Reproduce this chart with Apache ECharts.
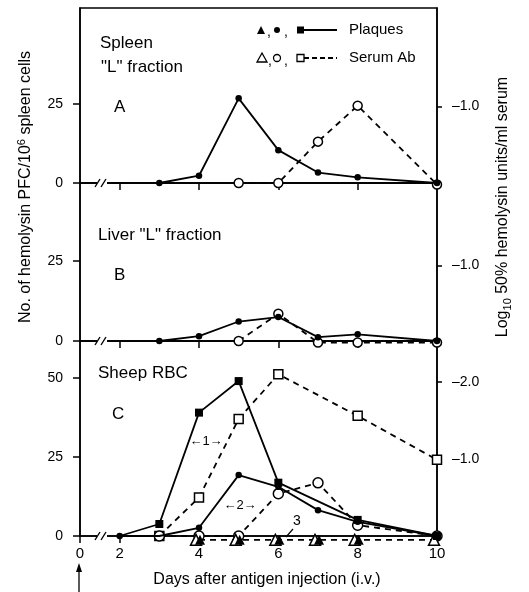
<!DOCTYPE html>
<html><head><meta charset="utf-8">
<script src="https://cdn.jsdelivr.net/npm/echarts@6/dist/echarts.min.js"></script>
<style>html,body{margin:0;padding:0;background:#fff}#c{width:529px;height:592px}</style>
</head><body><div id="c"></div>
<script>
// ---- axis ticks ----
const xTickDays = [1, 2, 4, 6, 8, 10];
const xTickLabels = ['0', '2', '4', '6', '8', '10'];
const leftTicksAB = [0, 25];
const leftTicksC = [0, 25, 50];
const rightTicksAB = [1];
const rightTicksC = [1, 2];

// ---- Panel A: Spleen "L" fraction ----
const aPlaqueDays = [3, 4, 5, 6, 7, 8, 10];
const aPlaqueVals = [0, 2.3, 26.8, 10.4, 3.3, 1.8, 0];
const aSerumDays = [5, 6, 7, 8, 10];
const aSerumVals = [0, 0, 0.54, 1.01, -0.02];

// ---- Panel B: Liver "L" fraction ----
const bPlaqueDays = [3, 4, 5, 6, 7, 8, 10];
const bPlaqueVals = [0, 1.5, 6.1, 7.5, 1.2, 2.1, 0];
const bSerumDays = [5, 6, 7, 8, 10];
const bSerumVals = [0, 0.36, -0.02, -0.02, -0.02];

// ---- Panel C: Sheep RBC (curves 1, 2, 3) ----
const c1PlaqueDays = [2, 3, 4, 5, 6, 8, 10];
const c1PlaqueVals = [0, 3.8, 39.1, 49.1, 16.9, 5.1, 0];
const c2PlaqueDays = [2, 3, 4, 5, 6, 7, 8, 10];
const c2PlaqueVals = [0, 0, 2.6, 19.3, 15.6, 8.2, 4.5, 0];
const c3PlaqueDays = [4, 5, 6, 7, 8];
const c3PlaqueVals = [-1.2, -1.2, -1.2, -1.2, -1.2];
const c1SerumDays = [3, 4, 5, 6, 8, 10];
const c1SerumVals = [0, 0.50, 1.52, 2.10, 1.56, 0.99];
const c2SerumDays = [3, 4, 5, 6, 7, 8, 10];
const c2SerumVals = [0, 0, 0, 0.55, 0.69, 0.14, 0];
const c3SerumDays = [4, 5, 6, 7, 8, 10];
const c3SerumVals = [-0.05, -0.05, -0.05, -0.05, -0.05, -0.05];

const FONT = 'Liberation Sans';
const BLK = '#000';

function pts(days, vals, hideDays) {
  return days.map((d, i) => {
    const o = { value: [d, vals[i]] };
    if (hideDays && hideDays.indexOf(d) >= 0) o.symbol = 'none';
    return o;
  });
}

const chart = echarts.init(document.getElementById('c'), null, { renderer: 'canvas' });

const grids = [
  { left: 80, right: 92, top: 8, height: 175 },
  { left: 80, right: 92, top: 183, height: 158 },
  { left: 80, right: 92, top: 341, height: 195 }
];
const leftMax = [55.4, 49.5, 61.8];
const rightMax = [2.285, 2.087, 2.532];

const xAxes = [0, 1, 2].map(i => ({
  type: 'value', gridIndex: i, min: 1, max: 10,
  axisLine: { show: true, onZero: false, lineStyle: { color: BLK, width: 1.5 } },
  axisTick: { show: true, inside: false, length: 7, customValues: i === 2 ? [1, 2, 4, 6, 8] : [2, 4, 6, 8], lineStyle: { color: BLK, width: 1.5 } },
  axisLabel: { show: i === 2, customValues: xTickDays, margin: 10, color: BLK, fontSize: 15, fontFamily: FONT,
    formatter: v => xTickLabels[xTickDays.indexOf(v)] },
  splitLine: { show: false }
}));

const yAxes = [];
[0, 1, 2].forEach(i => {
  const lt = i === 2 ? leftTicksC : leftTicksAB;
  const rt = i === 2 ? rightTicksC : rightTicksAB;
  yAxes.push({
    type: 'value', gridIndex: i, position: 'left', min: 0, max: leftMax[i],
    axisLine: { show: true, onZero: false, lineStyle: { color: BLK, width: 1.5 } },
    axisTick: { show: true, length: 7, customValues: lt, lineStyle: { color: BLK, width: 1.5 } },
    axisLabel: { customValues: lt, margin: 17, color: BLK, fontSize: 14, fontFamily: FONT },
    splitLine: { show: false }
  });
  yAxes.push({
    type: 'value', gridIndex: i, position: 'right', min: 0, max: rightMax[i],
    axisLine: { show: true, onZero: false, lineStyle: { color: BLK, width: 1.5 } },
    axisTick: { show: true, length: 5, customValues: rt, lineStyle: { color: BLK, width: 1.5 } },
    axisLabel: { customValues: rt, margin: 15, color: BLK, fontSize: 14, fontFamily: FONT,
      formatter: v => '–' + v.toFixed(1) },
    splitLine: { show: false }
  });
});

const solid = { color: BLK, width: 1.8, type: 'solid' };
const dashed = { color: BLK, width: 1.8, type: [6, 5] };
const filled = { color: BLK };
const open = { color: '#fff', borderColor: BLK, borderWidth: 1.5 };

function ser(xi, yi, data, line, symbol, size, item, extra) {
  return Object.assign({
    type: 'line', xAxisIndex: xi, yAxisIndex: yi, data: data,
    lineStyle: line, symbol: symbol, symbolSize: size, itemStyle: item,
    showAllSymbol: true, clip: false, animation: false, emphasis: { disabled: true }, z: 3
  }, extra || {});
}

const series = [
  // A
  ser(0, 1, pts(aSerumDays, aSerumVals), dashed, 'circle', 9, open),
  ser(0, 0, pts(aPlaqueDays, aPlaqueVals), solid, 'circle', 6.5, filled, { z: 4 }),
  // B
  ser(1, 3, pts(bSerumDays, bSerumVals), dashed, 'circle', 9, open),
  ser(1, 2, pts(bPlaqueDays, bPlaqueVals), solid, 'circle', 6.5, filled, { z: 4 }),
  // C serum
  ser(2, 5, pts(c1SerumDays, c1SerumVals), dashed, 'rect', 9, open),
  ser(2, 5, pts(c2SerumDays, c2SerumVals), dashed, 'circle', 10, open),
  ser(2, 5, pts(c3SerumDays, c3SerumVals), dashed, 'triangle', 11, open, { symbolOffset: [-3, 0] }),
  // C plaques
  ser(2, 4, pts(c3PlaqueDays, c3PlaqueVals), { width: 0 }, 'triangle', 10, filled, { z: 4, symbolOffset: [1, 0] }),
  ser(2, 4, pts(c1PlaqueDays, c1PlaqueVals, [2]), solid, 'rect', 8, filled, { z: 4 }),
  ser(2, 4, pts(c2PlaqueDays, c2PlaqueVals, [3]), solid, 'circle', 6.5, filled, { z: 4 })
];

const txt = (text, x, y, size, align) => ({
  type: 'text', x: x, y: y, z: 10,
  style: { text: text, fontSize: size, fontFamily: FONT, fill: BLK, align: align || 'left', verticalAlign: 'middle' }
});

const graphics = [];
// panel titles
graphics.push(txt('Spleen', 100, 43, 17));
graphics.push(txt('"L" fraction', 101, 67, 17));
graphics.push(txt('A', 114, 107, 17));
graphics.push(txt('Liver "L" fraction', 98, 235, 17));
graphics.push(txt('B', 114, 275, 17));
graphics.push(txt('Sheep RBC', 98, 373, 17));
graphics.push(txt('C', 112, 414, 17));
// legend
graphics.push({ type: 'polygon', z: 10, shape: { points: [[257, 34], [265, 34], [261, 26]] }, style: { fill: BLK } });
graphics.push(txt(',', 267, 32, 14));
graphics.push({ type: 'circle', z: 10, shape: { cx: 277, cy: 30, r: 3 }, style: { fill: BLK } });
graphics.push(txt(',', 284, 32, 14));
graphics.push({ type: 'rect', z: 10, shape: { x: 297, y: 26.5, width: 7, height: 7 }, style: { fill: BLK } });
graphics.push({ type: 'line', z: 10, shape: { x1: 304, y1: 30, x2: 337, y2: 30 }, style: { stroke: BLK, lineWidth: 1.8 } });
graphics.push(txt('Plaques', 349, 30, 15));
graphics.push({ type: 'polygon', z: 10, shape: { points: [[257, 62], [267, 62], [262, 53]] }, style: { fill: '#fff', stroke: BLK, lineWidth: 1.3 } });
graphics.push(txt(',', 268, 61, 14));
graphics.push({ type: 'circle', z: 10, shape: { cx: 277, cy: 58, r: 3.5 }, style: { fill: '#fff', stroke: BLK, lineWidth: 1.3 } });
graphics.push(txt(',', 284, 61, 14));
graphics.push({ type: 'rect', z: 10, shape: { x: 297, y: 54.5, width: 7, height: 7 }, style: { fill: '#fff', stroke: BLK, lineWidth: 1.3 } });
graphics.push({ type: 'line', z: 10, shape: { x1: 304, y1: 58, x2: 337, y2: 58 }, style: { stroke: BLK, lineWidth: 1.8, lineDash: [5, 3] } });
graphics.push(txt('Serum Ab', 349, 58, 15));
// curve annotations (panel C)
graphics.push(txt('←1→', 206, 441, 13, 'center'));
graphics.push(txt('←2→', 240, 505, 13, 'center'));
graphics.push(txt('3', 297, 521, 14, 'center'));
graphics.push({ type: 'line', z: 10, shape: { x1: 293, y1: 529, x2: 286, y2: 537 }, style: { stroke: BLK, lineWidth: 1.2 } });
// axis breaks
[183, 341, 536].forEach(yz => {
  graphics.push({ type: 'rect', z: 20, shape: { x: 97, y: yz - 2, width: 10, height: 4 }, style: { fill: '#fff' } });
  graphics.push({ type: 'line', z: 21, shape: { x1: 95, y1: yz + 4, x2: 100, y2: yz - 4 }, style: { stroke: BLK, lineWidth: 1.4 } });
  graphics.push({ type: 'line', z: 21, shape: { x1: 101, y1: yz + 4, x2: 106, y2: yz - 4 }, style: { stroke: BLK, lineWidth: 1.4 } });
});
// axis titles
graphics.push({ type: 'text', x: 26, y: 187, rotation: Math.PI / 2, z: 10,
  style: { text: 'No. of hemolysin PFC/10{s|6} spleen cells', fontSize: 16, fontFamily: FONT, fill: BLK, align: 'center', verticalAlign: 'middle',
    rich: { s: { fontSize: 11, fontFamily: FONT, fill: BLK, padding: [0, 0, 9, 0] } } } });
graphics.push({ type: 'text', x: 503, y: 207, rotation: Math.PI / 2, z: 10,
  style: { text: 'Log{s|10} 50% hemolysin units/ml serum', fontSize: 16, fontFamily: FONT, fill: BLK, align: 'center', verticalAlign: 'middle',
    rich: { s: { fontSize: 11, fontFamily: FONT, fill: BLK, padding: [9, 0, 0, 0] } } } });
graphics.push({ type: 'text', x: 267, y: 580, z: 10,
  style: { text: 'Days after antigen injection (i.v.)', fontSize: 16, fontFamily: FONT, fill: BLK, align: 'center', verticalAlign: 'middle' } });
// injection arrow at day 0
graphics.push({ type: 'line', z: 10, shape: { x1: 79, y1: 592, x2: 79, y2: 570 }, style: { stroke: BLK, lineWidth: 1.3 } });
graphics.push({ type: 'polygon', z: 10, shape: { points: [[76, 572], [82, 572], [79, 563]] }, style: { fill: BLK } });

chart.setOption({
  animation: false,
  backgroundColor: '#fff',
  grid: grids.map(g => Object.assign({ show: true, borderColor: BLK, borderWidth: 1.5, backgroundColor: 'transparent' }, g)),
  xAxis: xAxes,
  yAxis: yAxes,
  series: series,
  graphic: graphics
});
</script></body></html>
